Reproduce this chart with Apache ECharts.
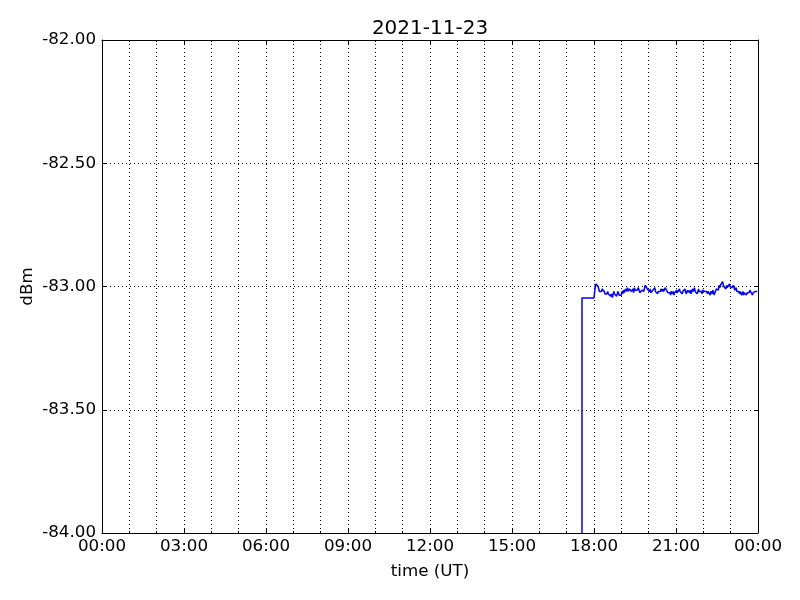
<!DOCTYPE html>
<html>
<head>
<meta charset="utf-8">
<script src="https://cdn.jsdelivr.net/npm/echarts@6/dist/echarts.min.js"></script>
<style>html,body{margin:0;padding:0;background:#fff}#c{width:800px;height:600px}</style>
</head>
<body>
<div id="c"></div>
<script>
const titleText = "2021-11-23";
const xTicks = ["00:00","03:00","06:00","09:00","12:00","15:00","18:00","21:00","00:00"];
const yTicks = [-84, -83.5, -83, -82.5, -82];
// initial segment (time in hours UT, dBm)
const startTimes = [17.56, 17.56, 18.0];
const startValues = [-84.0, -83.047, -83.047];
// sampled trace from 18:01:30 onward, every 1.5 minutes
const traceStart = 18.025, traceStep = 0.025;
const traceValues = [
  -83.02, -83.00, -82.99, -82.985, -82.995, -83.00, -83.01, -83.02, -83.025, -83.015, -83.02, -83.01, -83.005, -83.015, -83.02, -83.03, -83.035, -83.025, -83.03, -83.02,
  -83.03, -83.035, -83.025, -83.04, -83.03, -83.035, -83.045, -83.03, -83.02, -83.03, -83.035, -83.025, -83.04, -83.03, -83.02, -83.025, -83.035, -83.04, -83.03, -83.035,
  -83.02, -83.03, -83.015, -83.025, -83.02, -83.01, -83.02, -83.015, -83.005, -83.02, -83.025, -83.01, -83.015, -83.005, -83.02, -83.015, -83.01, -83.025, -83.005, -83.015,
  -83.02, -83.01, -83.015, -83.02, -83.005, -83.015, -83.025, -83.02, -83.03, -83.015, -83.02, -83.01, -83.02, -83.005, -82.995, -82.99, -83.00, -83.01, -83.005, -83.015,
  -83.02, -83.01, -83.025, -83.02, -83.03, -83.015, -83.02, -83.01, -83.005, -83.02, -83.015, -83.025, -83.03, -83.02, -83.015, -83.025, -83.02, -83.01, -83.015, -83.02,
  -83.01, -83.02, -83.025, -83.005, -83.00, -83.015, -83.01, -83.025, -83.02, -83.03, -83.025, -83.035, -83.02, -83.025, -83.03, -83.02, -83.035, -83.025, -83.02, -83.025,
  -83.015, -83.025, -83.03, -83.02, -83.01, -83.02, -83.025, -83.015, -83.03, -83.02, -83.015, -83.025, -83.01, -83.02, -83.03, -83.025, -83.015, -83.02, -83.01, -83.025,
  -83.015, -83.03, -83.02, -83.01, -83.02, -83.015, -83.005, -83.02, -83.025, -83.015, -83.03, -83.02, -83.01, -83.02, -83.015, -83.025, -83.02, -83.03, -83.015, -83.02,
  -83.01, -83.02, -83.025, -83.015, -83.02, -83.03, -83.02, -83.015, -83.025, -83.035, -83.02, -83.025, -83.03, -83.015, -83.02, -83.035, -83.025, -83.02, -83.01, -83.015,
  -83.005, -83.015, -82.995, -83.005, -83.00, -82.99, -82.985, -82.98, -82.99, -83.00, -82.995, -83.005, -83.01, -82.995, -83.005, -83.01, -83.00, -82.99, -83.00, -83.005,
  -82.995, -83.005, -83.01, -82.995, -83.005, -83.015, -83.01, -83.005, -83.02, -83.015, -83.025, -83.02, -83.03, -83.02, -83.025, -83.035, -83.03, -83.02, -83.035, -83.025,
  -83.03, -83.02, -83.035, -83.025, -83.02, -83.03, -83.025, -83.015, -83.02, -83.025, -83.03, -83.035, -83.025, -83.02, -83.03, -83.02, -83.015, -83.025, -83.02, -83.02
];

const data = [];
for (let i = 0; i < startTimes.length; i++) data.push([startTimes[i], startValues[i]]);
for (let i = 0; i < traceValues.length; i++) data.push([+(traceStart + i * traceStep).toFixed(4), traceValues[i]]);

const font = "DejaVu Sans";
const dotted = { color: "#000", width: 1, type: [1, 3] };
const chart = echarts.init(document.getElementById("c"), null, { renderer: "canvas" });
chart.setOption({
  animation: false,
  backgroundColor: "#fff",
  title: { text: titleText, left: 425, top: 14, textAlign: "center",
    textStyle: { fontFamily: font, fontSize: 20, fontWeight: "normal", color: "#000" } },
  grid: { left: 102, right: 42, top: 40, bottom: 67, containLabel: false },
  xAxis: [{
    type: "value", min: 0, max: 24, interval: 3, position: "bottom",
    name: "time (UT)", nameLocation: "middle", nameGap: 30, nameMoveOverlap: false,
    nameTextStyle: { fontFamily: font, fontSize: 16.7, color: "#000" },
    axisLine: { show: true, lineStyle: { color: "#000", width: 1 } },
    axisTick: { show: true, inside: true, length: 4, lineStyle: { color: "#000" } },
    minorTick: { show: true, splitNumber: 3, length: 2, lineStyle: { color: "#000" } },
    splitLine: { show: true, lineStyle: dotted },
    minorSplitLine: { show: true, lineStyle: dotted },
    axisLabel: { fontFamily: font, fontSize: 16.7, color: "#000", margin: 5,
      formatter: v => xTicks[Math.round(v / 3)] }
  }, {
    type: "value", min: 0, max: 24, interval: 3, position: "top",
    axisLine: { show: true, onZero: false, lineStyle: { color: "#000", width: 1 } },
    axisTick: { show: true, inside: true, length: 4, lineStyle: { color: "#000" } },
    minorTick: { show: true, splitNumber: 3, length: 2, lineStyle: { color: "#000" } },
    splitLine: { show: false }, axisLabel: { show: false }
  }],
  yAxis: [{
    type: "value", min: -84, max: -82, interval: 0.5, position: "left",
    name: "dBm", nameLocation: "middle", nameGap: 66, nameRotate: 90, nameMoveOverlap: false,
    nameTextStyle: { fontFamily: font, fontSize: 16.7, color: "#000" },
    axisLine: { show: true, onZero: false, lineStyle: { color: "#000", width: 1 } },
    axisTick: { show: true, inside: true, length: 4, lineStyle: { color: "#000" } },
    splitLine: { show: true, lineStyle: dotted },
    axisLabel: { fontFamily: font, fontSize: 16.7, color: "#000", margin: 6,
      formatter: v => { const t = yTicks.find(y => Math.abs(y - v) < 1e-6); return (t !== undefined ? t : v).toFixed(2); } }
  }, {
    type: "value", min: -84, max: -82, interval: 0.5, position: "right",
    axisLine: { show: true, onZero: false, lineStyle: { color: "#000", width: 1 } },
    axisTick: { show: true, inside: true, length: 4, lineStyle: { color: "#000" } },
    splitLine: { show: false }, axisLabel: { show: false }
  }],
  series: [{
    type: "line", data: data, xAxisIndex: 0, yAxisIndex: 0,
    showSymbol: false, symbol: "none", clip: true,
    lineStyle: { color: "#0000ff", width: 1.5 }
  }]
});
</script>
</body>
</html>
